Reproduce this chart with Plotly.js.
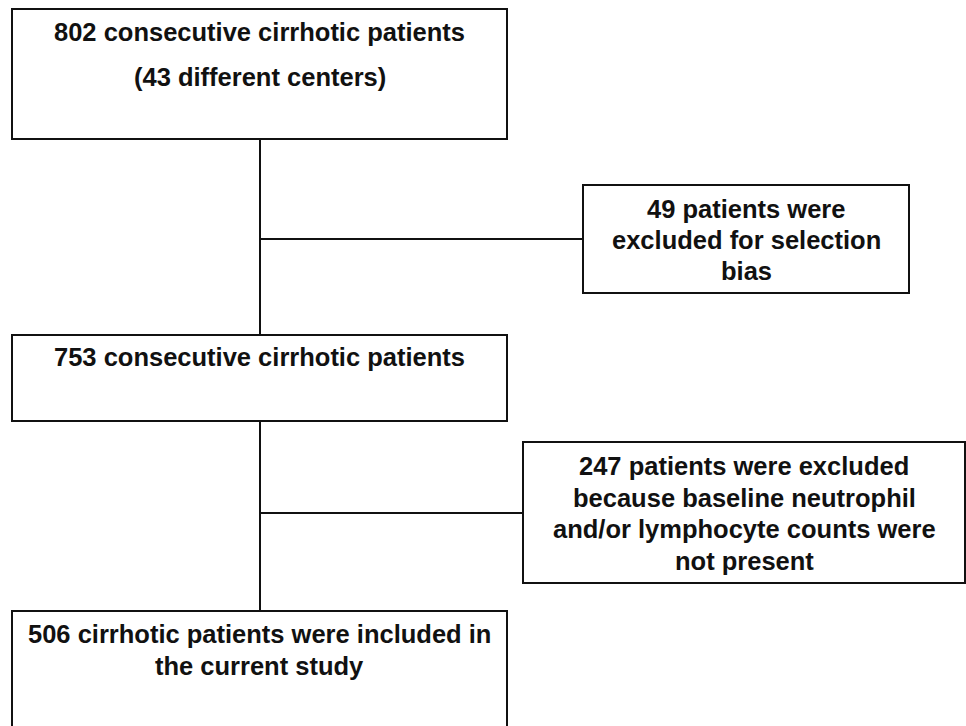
<!DOCTYPE html>
<html>
<head>
<meta charset="utf-8">
<script src="https://cdn.plot.ly/plotly-3.0.1.min.js"></script>
<style>html,body{margin:0;padding:0;background:#fff;}#chart{width:966px;height:726px;}</style>
</head>
<body>
<div id="chart"></div>
<script>
// Flowchart content
const boxLabels = [
  ["802 consecutive cirrhotic patients", "(43 different centers)"],
  ["49 patients were", "excluded for selection", "bias"],
  ["753 consecutive cirrhotic patients"],
  ["247 patients were excluded", "because baseline neutrophil", "and/or lymphocyte counts were", "not present"],
  ["506 cirrhotic patients were included in", "the current study"]
];

// Layout geometry (pixels, top-left origin)
const boxGeom = [
  {x0: 12, x1: 507, y0: 9, y1: 139, lineY: [32, 77]},
  {x0: 583, x1: 909, y0: 185, y1: 293, lineY: [209, 240, 271]},
  {x0: 12, x1: 507, y0: 335, y1: 421, lineY: [357]},
  {x0: 523, x1: 965, y0: 442, y1: 583, lineY: [466, 498, 529, 561]},
  {x0: 12, x1: 507, y0: 611, y1: 740, lineY: [634, 666]}
];
const connectors = [
  {x0: 260, y0: 139, x1: 260, y1: 335},
  {x0: 260, y0: 239, x1: 583, y1: 239},
  {x0: 260, y0: 421, x1: 260, y1: 611},
  {x0: 260, y0: 513, x1: 523, y1: 513}
];

const shapes = [];
const annotations = [];
boxGeom.forEach((g, i) => {
  shapes.push({type: 'rect', xref: 'x', yref: 'y', x0: g.x0, x1: g.x1, y0: g.y0, y1: g.y1,
    line: {color: '#111', width: 2}, fillcolor: 'rgba(0,0,0,0)'});
  const cx = (g.x0 + g.x1) / 2;
  boxLabels[i].forEach((t, j) => {
    annotations.push({xref: 'x', yref: 'y', x: cx, y: g.lineY[j], text: '<b>' + t + '</b>',
      showarrow: false, xanchor: 'center', yanchor: 'middle',
      font: {family: '"Liberation Sans", Arial, sans-serif', size: 25.5, color: '#111'}});
  });
});
connectors.forEach(c => {
  shapes.push({type: 'line', xref: 'x', yref: 'y', x0: c.x0, y0: c.y0, x1: c.x1, y1: c.y1,
    line: {color: '#111', width: 2}});
});

const layout = {
  width: 966, height: 726,
  margin: {l: 0, r: 0, t: 0, b: 0},
  paper_bgcolor: '#fff', plot_bgcolor: '#fff',
  xaxis: {range: [0, 966], visible: false, fixedrange: true},
  yaxis: {range: [726, 0], visible: false, fixedrange: true},
  shapes: shapes,
  annotations: annotations,
  showlegend: false
};
Plotly.newPlot('chart', [], layout, {staticPlot: true, displayModeBar: false});
</script>
</body>
</html>
